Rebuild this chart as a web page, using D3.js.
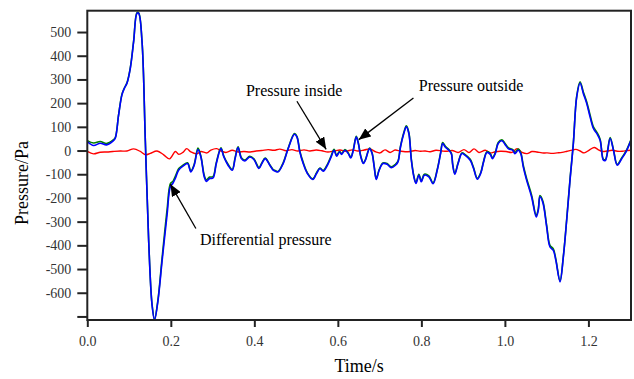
<!DOCTYPE html>
<html>
<head>
<meta charset="utf-8">
<script src="https://cdn.jsdelivr.net/npm/d3@7"></script>
<style>
  body { margin: 0; background: #fff; }
  text { font-family: "Liberation Serif", "Times New Roman", serif; }
</style>
</head>
<body>
<script>
// time (s) for the outside / differential traces
const timeMain = [0.000, 0.015, 0.031, 0.046, 0.062, 0.067, 0.075, 0.083, 0.089, 0.095,
  0.103, 0.111, 0.119, 0.123, 0.131, 0.139, 0.147, 0.155, 0.161, 0.169,
  0.179, 0.191, 0.199, 0.205, 0.211, 0.219, 0.229, 0.240, 0.248, 0.256,
  0.265, 0.272, 0.280, 0.285, 0.293, 0.301, 0.309, 0.320, 0.327, 0.337,
  0.347, 0.354, 0.361, 0.369, 0.377, 0.389, 0.399, 0.411, 0.418, 0.426,
  0.437, 0.445, 0.450, 0.457, 0.469, 0.481, 0.496, 0.502, 0.509, 0.517,
  0.527, 0.540, 0.549, 0.557, 0.565, 0.575, 0.584, 0.591, 0.597, 0.604,
  0.609, 0.617, 0.625, 0.631, 0.637, 0.644, 0.649, 0.655, 0.661, 0.666,
  0.676, 0.682, 0.687, 0.692, 0.699, 0.708, 0.718, 0.728, 0.738, 0.744,
  0.750, 0.758, 0.764, 0.770, 0.776, 0.782, 0.787, 0.794, 0.800, 0.807,
  0.818, 0.828, 0.838, 0.846, 0.851, 0.857, 0.866, 0.872, 0.875, 0.880,
  0.888, 0.897, 0.905, 0.917, 0.925, 0.934, 0.942, 0.949, 0.957, 0.965,
  0.970, 0.977, 0.984, 0.993, 1.000, 1.008, 1.019, 1.024, 1.032, 1.038,
  1.044, 1.052, 1.064, 1.075, 1.080, 1.084, 1.091, 1.100, 1.108, 1.116,
  1.122, 1.132, 1.140, 1.148, 1.156, 1.164, 1.172, 1.180, 1.188, 1.196,
  1.204, 1.212, 1.220, 1.228, 1.236, 1.241, 1.252, 1.260, 1.269, 1.280,
  1.290, 1.302];

// blue trace (Pa)
const blueValues = [38, 21, 31, 24, 41, 52, 150, 235, 263, 284,
  347, 460, 579, 579, 460, 38, -384, -651, -715, -637,
  -468, -272, -152, -138, -117, -82, -66, -55, -90, -62,
  4, -27, -111, -130, -118, -116, -55, 8, -27, -62,
  -83, -34, 13, -34, -44, -27, -38, -76, -55, -34,
  -62, -83, -87, -90, -55, 8, 69, 57, -6, -55,
  -97, -122, -97, -76, -87, -62, -27, 1, -24, -6,
  -16, 1, -13, -31, 1, 57, 30, -27, -55, -41,
  8, -13, -69, -122, -83, -55, -58, -72, -62, -48,
  15, 72, 100, 72, -41, -111, -139, -104, -132, -104,
  -111, -140, -83, -13, 30, 15, 1, -15, -60, -100,
  -55, -13, -20, -41, -76, -121, -97, -48, -8, -16,
  -34, -13, 30, 41, 27, 8, 1, -13, 1, -13,
  -69, -125, -196, -280, -252, -195, -220, -322, -407, -421,
  -463, -554, -449, -294, -125, 30, 226, 285, 240, 198,
  142, 93, 72, 43, -41, -41, 51, 1, -62, -34,
  -6, 43];

// green trace (Pa), mostly under the blue one
const greenValues = [42, 32, 38, 30, 45, 55, 152, 238, 265, 286,
  350, 463, 582, 581, 462, 40, -380, -648, -712, -632,
  -455, -250, -140, -130, -108, -76, -62, -52, -86, -58,
  10, -24, -104, -124, -112, -110, -50, 12, -24, -58,
  -80, -30, 16, -30, -40, -24, -35, -72, -52, -32,
  -60, -80, -84, -88, -52, 10, 72, 60, -3, -50,
  -94, -119, -94, -74, -84, -58, -22, 5, -20, -3,
  -13, 4, -10, -28, 4, 60, 33, -24, -52, -38,
  11, -10, -66, -118, -80, -52, -55, -69, -58, -45,
  18, 76, 104, 76, -37, -107, -134, -100, -128, -100,
  -107, -136, -80, -10, 34, 19, 4, -12, -57, -96,
  -52, -10, -17, -37, -72, -117, -94, -45, -5, -13,
  -30, -9, 34, 45, 31, 12, 4, -8, 6, -9,
  -62, -118, -188, -274, -246, -190, -214, -315, -400, -415,
  -458, -550, -445, -290, -120, 34, 230, 290, 246, 205,
  150, 100, 78, 48, -37, -37, 55, 4, -58, -30,
  -3, 46];

// time (s) for the inside pressure trace
const timeInside = [0.000, 0.015, 0.031, 0.047, 0.061, 0.079, 0.095, 0.111, 0.127, 0.139,
  0.151, 0.167, 0.183, 0.197, 0.211, 0.219, 0.229, 0.238, 0.248, 0.262,
  0.272, 0.286, 0.296, 0.310, 0.320, 0.332, 0.347, 0.361, 0.375, 0.390,
  0.404, 0.418, 0.433, 0.447, 0.461, 0.476, 0.490, 0.504, 0.519, 0.533,
  0.548, 0.562, 0.576, 0.591, 0.605, 0.620, 0.634, 0.648, 0.663, 0.677,
  0.691, 0.701, 0.713, 0.725, 0.737, 0.749, 0.761, 0.773, 0.785, 0.797,
  0.809, 0.821, 0.835, 0.850, 0.862, 0.874, 0.888, 0.902, 0.914, 0.926,
  0.938, 0.953, 0.965, 0.977, 0.989, 1.003, 1.017, 1.029, 1.041, 1.053,
  1.065, 1.077, 1.089, 1.101, 1.113, 1.125, 1.137, 1.149, 1.161, 1.170,
  1.180, 1.190, 1.202, 1.214, 1.223, 1.233, 1.245, 1.257, 1.269, 1.281,
  1.293, 1.302];

const insideValues = [-4, -14, -7, -6, -4, -2, -2, 7, -4, -18,
  -12, -2, -18, -35, -4, -16, -8, 8, -6, -14,
  -4, -10, 2, 8, -2, -8, 1, -6, -4, -6,
  -2, 0, 4, 1, 6, -1, 4, -2, 3, -2,
  2, -1, -6, -2, 2, -3, 3, -2, 2, 7,
  -6, -10, 3, -8, 2, -2, -5, -4, 0, -3,
  -2, -5, 1, -2, -3, 0, -8, 4, -8, 7,
  -8, 1, -10, -5, -3, -4, -8, 8, -8, -13,
  -4, -6, -10, -10, -12, -10, -8, -3, 2, 5,
  -2, -10, 2, 13, 4, -4, -2, 1, -3, -3,
  0, 1];

const xTicks = [0, 0.2, 0.4, 0.6, 0.8, 1.0, 1.2];
const yTicks = [-700, -600, -500, -400, -300, -200, -100, 0, 100, 200, 300, 400, 500];

// annotations: label, text anchor point, arrow start, arrow tip (data units)
const notes = [
  { label: "Pressure inside", tx: 0.380, ty: 231, x1: 0.502, y1: 208, x2: 0.572, y2: 5 },
  { label: "Pressure outside", tx: 0.794, ty: 250, x1: 0.781, y1: 222, x2: 0.650, y2: 46 },
  { label: "Differential pressure", tx: 0.270, ty: -400, x1: 0.260, y1: -329, x2: 0.199, y2: -142 }
];

const width = 634;
const height = 379;
const margin = { top: 10.7, right: 3, bottom: 59, left: 87.3 };

const svg = d3.select("body").append("svg")
  .attr("width", width)
  .attr("height", height);

const x = d3.scaleLinear()
  .domain([0, 1.302])
  .range([margin.left, width - margin.right]);

const y = d3.scaleLinear()
  .domain([-715, 590])
  .range([height - margin.bottom, margin.top]);

svg.append("defs").append("clipPath")
  .attr("id", "plotclip")
  .append("rect")
  .attr("x", margin.left)
  .attr("y", margin.top)
  .attr("width", width - margin.right - margin.left)
  .attr("height", height - margin.bottom - margin.top);

svg.select("defs").append("marker")
  .attr("id", "head")
  .attr("viewBox", "0 0 12 10")
  .attr("refX", 12)
  .attr("refY", 5)
  .attr("markerWidth", 12)
  .attr("markerHeight", 10)
  .attr("markerUnits", "userSpaceOnUse")
  .attr("orient", "auto")
  .append("path")
  .attr("d", "M0,0 L12,5 L0,10 Z")
  .attr("fill", "#000");

const line = d3.line()
  .x(d => x(d[0]))
  .y(d => y(d[1]))
  .curve(d3.curveCatmullRom.alpha(0.5));

const plot = svg.append("g").attr("clip-path", "url(#plotclip)");

plot.append("path")
  .attr("d", line(d3.zip(timeInside, insideValues)))
  .attr("fill", "none")
  .attr("stroke", "#ff0000")
  .attr("stroke-width", 1.4);

plot.append("path")
  .attr("d", line(d3.zip(timeMain, greenValues)))
  .attr("fill", "none")
  .attr("stroke", "#008000")
  .attr("stroke-width", 1.6);

plot.append("path")
  .attr("d", line(d3.zip(timeMain, blueValues)))
  .attr("fill", "none")
  .attr("stroke", "#0000ff")
  .attr("stroke-width", 1.6);

// axes
const xAxis = svg.append("g")
  .attr("transform", `translate(0,${height - margin.bottom})`)
  .call(d3.axisBottom(x).tickValues(xTicks).tickFormat(d3.format(".1f"))
    .tickSize(7).tickPadding(9).tickSizeOuter(0));

const yAxis = svg.append("g")
  .attr("transform", `translate(${margin.left},0)`)
  .call(d3.axisLeft(y).tickValues(yTicks).tickFormat(d => d === -700 ? "" : d)
    .tickSize(10).tickPadding(6).tickSizeOuter(0));

[xAxis, yAxis].forEach(g => {
  g.attr("font-family", null);
  g.select(".domain").remove();
  g.selectAll(".tick line").attr("stroke", "#222").attr("stroke-width", 2);
  g.selectAll(".tick text")
    .attr("fill", "#333")
    .style("font-size", "14px")
    .style("font-family", "'Liberation Serif', serif");
});

svg.append("rect")
  .attr("x", margin.left)
  .attr("y", margin.top)
  .attr("width", width - margin.right - margin.left)
  .attr("height", height - margin.bottom - margin.top)
  .attr("fill", "none")
  .attr("stroke", "#222")
  .attr("stroke-width", 2);

// axis titles
svg.append("text")
  .attr("x", (margin.left + width - margin.right) / 2)
  .attr("y", 372)
  .attr("text-anchor", "middle")
  .style("font-size", "18px")
  .text("Time/s");

svg.append("text")
  .attr("transform", "translate(27.5,183) rotate(-90)")
  .attr("text-anchor", "middle")
  .style("font-size", "18px")
  .text("Pressure/Pa");

// annotations
const ann = svg.append("g");
ann.selectAll("line")
  .data(notes)
  .join("line")
  .attr("x1", d => x(d.x1))
  .attr("y1", d => y(d.y1))
  .attr("x2", d => x(d.x2))
  .attr("y2", d => y(d.y2))
  .attr("stroke", "#000")
  .attr("stroke-width", 1.3)
  .attr("marker-end", "url(#head)");

ann.selectAll("text")
  .data(notes)
  .join("text")
  .attr("x", d => x(d.tx))
  .attr("y", d => y(d.ty))
  .style("font-size", "16px")
  .attr("fill", "#000")
  .text(d => d.label);
</script>
</body>
</html>
